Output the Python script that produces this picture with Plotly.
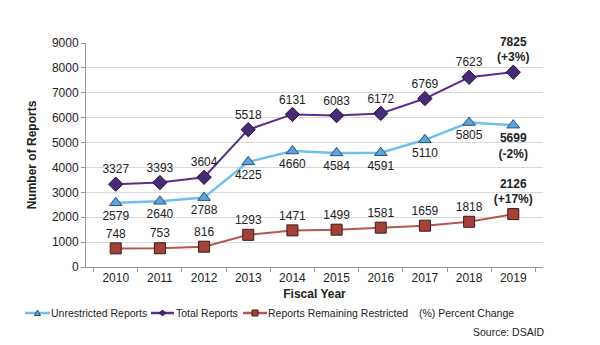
import plotly.graph_objects as go

years = ["2010","2011","2012","2013","2014","2015","2016","2017","2018","2019"]
unrestricted = [2579, 2640, 2788, 4225, 4660, 4584, 4591, 5110, 5805, 5699]
total = [3327, 3393, 3604, 5518, 6131, 6083, 6172, 6769, 7623, 7825]
restricted = [748, 753, 816, 1293, 1471, 1499, 1581, 1659, 1818, 2126]
last_changes = {"unrestricted": "-2%", "total": "+3%", "restricted": "+17%"}
series_names = ["Unrestricted Reports", "Total Reports", "Reports Remaining Restricted"]

def labels(vals, change):
    out = [str(v) for v in vals[:-1]]
    out.append(f"<b>{vals[-1]}<br>({change})</b>")
    return out

FONT = "Liberation Sans, Arial, sans-serif"
styles = [
    dict(line="#6cc0ee", lw=2.5, sym="triangle-up", fill="#5aa5dc", edge="#2b4f73"),
    dict(line="#5b2d8e", lw=2, sym="diamond", fill="#4a2a78", edge="#1a1030"),
    dict(line="#b8564c", lw=2, sym="square", fill="#a5403a", edge="#3a1a18"),
]
data = [unrestricted, total, restricted]
changes = [last_changes["unrestricted"], last_changes["total"], last_changes["restricted"]]
positions = ["bottom center", "top center", "top center"]

fig = go.Figure()
for name, vals, st, ch, pos in zip(series_names, data, styles, changes, positions):
    fig.add_trace(go.Scatter(
        x=years, y=vals, name=name, mode="lines+markers+text",
        line=dict(color=st["line"], width=st["lw"]),
        marker=dict(symbol=st["sym"], size=11, color=st["fill"], line=dict(color=st["edge"], width=1)),
        text=labels(vals, ch), textposition=pos,
        textfont=dict(size=12, color="#222", family=FONT), cliponaxis=False, showlegend=False))

fig.update_layout(
    width=600, height=345, paper_bgcolor="white", plot_bgcolor="white",
    margin=dict(l=86, r=57, t=43, b=78),
    font=dict(family=FONT, size=12, color="#222"),
    showlegend=False,
    xaxis=dict(type="category", showline=True, linecolor="#999", ticks="outside",
               ticklen=4, tickcolor="#999", showgrid=False, tickson="boundaries",
               title=dict(text="<b>Fiscal Year</b>", font=dict(size=12), standoff=5),
               tickfont=dict(size=12)),
    yaxis=dict(range=[0, 9000], dtick=1000, showline=True, linecolor="#999",
               ticks="outside", ticklen=4, tickcolor="#999", gridcolor="#d9d9d9",
               zeroline=False, tickfont=dict(size=12),
               title=dict(text="<b>Number of Reports</b>", font=dict(size=12), standoff=12)),
)

# custom compact legend (paper coordinates)
LY = -0.2054
legend_items = [(-0.1335, -0.0788, -0.0766), (0.1422, 0.1926, 0.1969), (0.3435, 0.3961, 0.3982)]
for (x0, x1, xt), st, name in zip(legend_items, styles, series_names):
    fig.add_shape(type="line", xref="paper", yref="paper", x0=x0, x1=x1, y0=LY, y1=LY,
                  line=dict(color=st["line"], width=2.5))
    xm = (x0 + x1) / 2
    if st["sym"] == "triangle-up":
        path = "M -3,-2.5 L 3,-2.5 L 0,3 Z"
    elif st["sym"] == "diamond":
        path = "M 0,-3 L 3,0 L 0,3 L -3,0 Z"
    else:
        path = "M -3,-3 L 3,-3 L 3,3 L -3,3 Z"
    fig.add_shape(type="path", xref="paper", yref="paper", xsizemode="pixel", ysizemode="pixel",
                  xanchor=xm, yanchor=LY, path=path, fillcolor=st["fill"],
                  line=dict(color=st["edge"], width=1))
    fig.add_annotation(text=name, xref="paper", yref="paper", x=xt, y=LY, xanchor="left",
                       yanchor="middle", showarrow=False, font=dict(size=10.5), xshift=-2)
fig.add_annotation(text="(%) Percent Change", xref="paper", yref="paper", x=0.7287, y=LY,
                   xanchor="left", yanchor="middle", showarrow=False, font=dict(size=10.5), xshift=-2)
fig.add_annotation(text="Source: DSAID", xref="paper", yref="paper", x=1.0088, y=-0.29,
                   xanchor="right", yanchor="middle", showarrow=False, font=dict(size=10.5))
fig.write_html("out.html")
